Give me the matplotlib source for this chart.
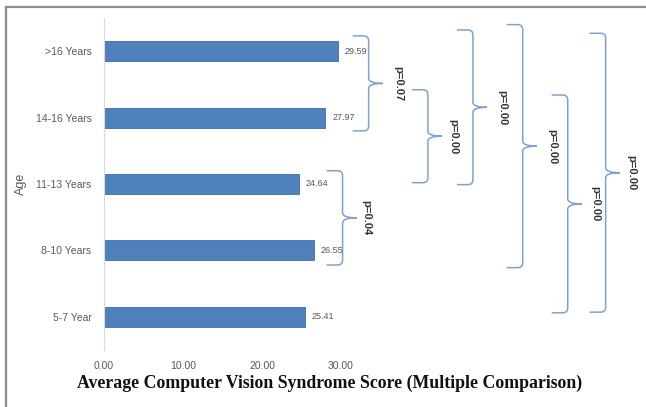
import matplotlib
matplotlib.use('Agg')
import matplotlib.pyplot as plt
from matplotlib.path import Path
from matplotlib.patches import PathPatch
from matplotlib.lines import Line2D

# data
categorias = ['5-7 Year', '8-10 Years', '11-13 Years', '14-16 Years', '>16 Years']
puntajes = [25.41, 26.55, 24.64, 27.97, 29.59]
xticks = [0, 10, 20, 30]

# comparaciones multiples: extremo superior, inferior, posicion x, posicion del texto, etiqueta
llave_arriba = [4.23, 2.20, 3.42, 4.32, 4.40, 3.34, 4.27]
llave_abajo = [2.80, 0.78, 2.02, 1.99, 0.74, 0.06, 0.07]
llave_x = [33.5, 30.2, 41.0, 46.7, 53.0, 58.7, 63.5]
texto_x = [37.2, 33.2, 44.2, 50.4, 56.8, 62.2, 66.8]
etiquetas_p = ['p=0.07', 'p=0.04', 'p=0.00', 'p=0.00', 'p=0.00', 'p=0.00', 'p=0.00']

plt.rcParams['font.family'] = ['Liberation Sans', 'DejaVu Sans']

fig = plt.figure(figsize=(6.46, 4.07), dpi=100)
ax = fig.add_axes([104 / 646, 57 / 407, 536 / 646, 332 / 407])

ax.barh(range(len(categorias)), puntajes, height=0.3, color='#4F81BD',
        edgecolor='#3d6dab', linewidth=0.6)
for i, v in enumerate(puntajes):
    ax.text(v + 0.9, i, f'{v:.2f}', va='center', ha='left', fontsize=6.5, color='#595959')

ax.set_xlim(0, 536 / 7.9)
ax.set_ylim(-0.5, len(categorias) - 0.5)
ax.set_yticks(range(len(categorias)))
ax.set_yticklabels(categorias, fontsize=7.5, color='#595959')
ax.set_xticks(xticks)
ax.set_xticklabels([f'{t:.2f}' for t in xticks], fontsize=7.5, color='#595959')
ax.tick_params(length=0, pad=9)
ax.tick_params(axis='x', pad=8)
for s in ['top', 'right', 'bottom']:
    ax.spines[s].set_visible(False)
ax.spines['left'].set_color('#d9d9d9')
ax.spines['left'].set_linewidth(0.8)

ax.set_ylabel('Age', fontsize=9, color='#595959')
ax.yaxis.set_label_coords(-0.143, 0.5)

# escala en pixeles por unidad para redondear las llaves
px_x = ax.bbox.width / (ax.get_xlim()[1] - ax.get_xlim()[0])
px_y = ax.bbox.height / (ax.get_ylim()[1] - ax.get_ylim()[0])
rx, ry = 5 / px_x, 5 / px_y
ancho, punta = 16 / px_x, 14 / px_x

for yt, yb, x, tx, lab in zip(llave_arriba, llave_abajo, llave_x, texto_x, etiquetas_p):
    ym = (yt + yb) / 2
    verts = [(x - ancho, yt), (x - rx, yt), (x, yt), (x, yt - ry),
             (x, ym + ry), (x, ym), (x + punta, ym),
             (x, ym), (x, ym - ry),
             (x, yb + ry), (x, yb), (x - rx, yb), (x - ancho, yb)]
    codes = [Path.MOVETO, Path.LINETO, Path.CURVE3, Path.CURVE3,
             Path.LINETO, Path.CURVE3, Path.CURVE3,
             Path.CURVE3, Path.CURVE3,
             Path.LINETO, Path.CURVE3, Path.CURVE3, Path.LINETO]
    ax.add_patch(PathPatch(Path(verts, codes), fill=False, edgecolor='#7ea2cf',
                           linewidth=1.1, clip_on=False))
    ax.text(tx, ym, lab, rotation=-90, ha='center', va='center', fontsize=8,
            color='#333333', fontweight='bold')

fig.text(330 / 646, 1 - 383 / 407, 'Average Computer Vision Syndrome Score (Multiple Comparison)',
         ha='center', va='center', fontsize=12.8, fontweight='bold',
         family='Liberation Serif', color='#111111')

# marco gris
fig.add_artist(Line2D([6 / 646, 1], [1 - 7 / 407, 1 - 7 / 407], color='#8c8c8c', linewidth=1.6))
fig.add_artist(Line2D([6 / 646, 6 / 646], [0, 1 - 7 / 407], color='#8c8c8c', linewidth=1.6))

fig.savefig('out.png', dpi=100)
